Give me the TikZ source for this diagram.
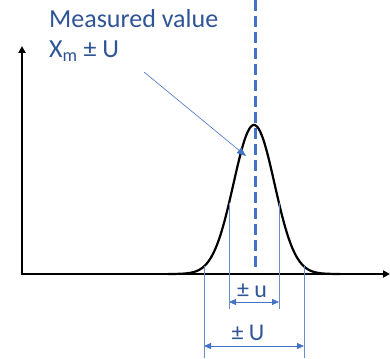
\documentclass[tikz,border=0pt]{standalone}
\usepackage{fontspec}
\setmainfont{Carlito}
\usetikzlibrary{arrows.meta}
\definecolor{txtblue}{HTML}{2F5597}
\definecolor{lnblue}{HTML}{4472C4}
\begin{document}
\begin{tikzpicture}[x=1pt,y=-1pt,
  axis/.style={line width=2.2pt,-{Triangle[length=7pt,width=7pt]}},
  thinln/.style={lnblue!80,line width=0.6pt},
  dimarrow/.style={lnblue,line width=0.8pt,{Triangle[length=7pt,width=6pt]}-{Triangle[length=7pt,width=6pt]}},
  lbl/.style={text=txtblue,font=\fontsize{26}{30}\selectfont,inner sep=0pt},
  dim/.style={text=txtblue,font=\fontsize{24}{28}\selectfont,inner sep=0pt}]
\useasboundingbox (0,0) rectangle (390,358);
% axes
\coordinate (O) at (22,274);
\coordinate (ytop) at (22,46);
\coordinate (xend) at (390,274);
\draw[axis] (O) -- (ytop);
\draw[axis] ([xshift=-1pt]O) -- (xend);
% dashed measured value line
\coordinate (dtop) at (255,0);
\coordinate (dbot) at (255,271);
\draw[lnblue,line width=3pt,dash pattern=on 11pt off 5pt] (dtop) -- (dbot);
% gaussian curve
\draw[line width=2.2pt,domain=168:340,samples=120,smooth]
  plot (\x,{274-149*exp(-((\x-254)^2)/(2*20.5^2))});
% vertical thin lines
\coordinate (a1) at (229,{274-149*exp(-(25^2)/(2*20.5^2))});
\coordinate (a2) at (279,{274-149*exp(-(25^2)/(2*20.5^2))});
\coordinate (b1) at (204,{274-149*exp(-(50^2)/(2*20.5^2))});
\coordinate (b2) at (304,{274-149*exp(-(50^2)/(2*20.5^2))});
\coordinate (a1e) at (229,309);
\coordinate (a2e) at (279,309);
\coordinate (b1e) at (204,358);
\coordinate (b2e) at (304,358);
\draw[thinln] (a1) -- (a1e);
\draw[thinln] (a2) -- (a2e);
\draw[thinln] (b1) -- (b1e);
\draw[thinln] (b2) -- (b2e);
% dimension arrows
\coordinate (u1) at (229,302);
\coordinate (u2) at (279,302);
\coordinate (U1) at (204,346);
\coordinate (U2) at (304,346);
\draw[dimarrow] (u1) -- (u2);
\draw[dimarrow] (U1) -- (U2);
\node[dim,anchor=base] (ul) at (252,297) {± u};
\node[dim,anchor=base] (Ul) at (248,340) {± U};
% labels
\node[lbl,anchor=base west] (mv) at (49,28) {Measured value};
\node[lbl,anchor=base west] (xm) at (49,58) {X\textsubscript{m} ± U};
% pointer
\coordinate (pstart) at (144,72);
\coordinate (ptip) at (246,156);
\draw[lnblue,line width=0.6pt,-{Triangle[length=9pt,width=7pt]}] (pstart) -- (ptip);
\end{tikzpicture}
\end{document}
